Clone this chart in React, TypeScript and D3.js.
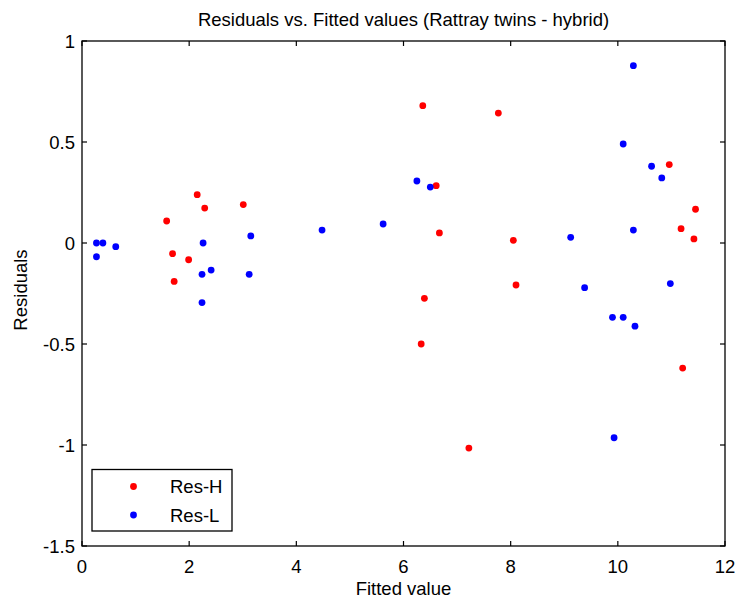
import React from "react";
import * as d3 from "d3";

const resHX = [1.58, 1.69, 1.72, 1.99, 2.15, 2.29, 3.01, 6.33, 6.36, 6.39, 6.61, 6.67, 7.22, 7.77, 8.05, 8.10, 10.96, 11.18, 11.21, 11.42, 11.45];
const resHY = [0.109, -0.053, -0.19, -0.083, 0.239, 0.173, 0.19, -0.50, 0.68, -0.274, 0.284, 0.05, -1.015, 0.643, 0.013, -0.208, 0.388, 0.071, -0.619, 0.02, 0.167];
const resLX = [0.27, 0.27, 0.39, 0.63, 2.26, 2.24, 2.24, 2.41, 3.12, 3.15, 4.48, 5.62, 6.25, 6.50, 9.12, 9.38, 9.90, 9.93, 10.10, 10.10, 10.29, 10.29, 10.32, 10.63, 10.82, 10.98];
const resLY = [-0.068, 0.0, 0.0, -0.018, 0.0, -0.155, -0.295, -0.134, -0.155, 0.035, 0.064, 0.094, 0.307, 0.277, 0.028, -0.221, -0.368, -0.964, -0.368, 0.49, 0.878, 0.064, -0.412, 0.38, 0.322, -0.201];
const xTicks = [0, 2, 4, 6, 8, 10, 12];
const yTicks = [1, 0.5, 0, -0.5, -1, -1.5];
const seriesNames = ["Res-H", "Res-L"];
const seriesColors = ["#ff0000", "#0000ff"];

export default function App() {
  const W = 736, H = 600;
  const left = 82, right = 725, top = 41, bottom = 546;
  const x = d3.scaleLinear().domain([0, 12]).range([left, right]);
  const y = d3.scaleLinear().domain([-1.5, 1]).range([bottom, top]);
  const font = "Arial, 'Liberation Sans', sans-serif";
  const fs = 18.5;
  const tl = 5;
  const fmt = (v: number) => (v === 0 ? "0" : String(v));
  const series = [
    { xs: resHX, ys: resHY },
    { xs: resLX, ys: resLY },
  ];
  return (
    <svg width={W} height={H} style={{ position: "absolute", left: 0, top: 0, background: "#fff" }}>
      <rect x={0} y={0} width={W} height={H} fill="#fff" />
      <text x={(left + right) / 2} y={26} textAnchor="middle" fontFamily={font} fontSize={fs} fill="#000">
        Residuals vs. Fitted values (Rattray twins - hybrid)
      </text>
      {series.map((s, si) =>
        s.xs.map((xv, i) => (
          <circle key={`${si}-${i}`} cx={x(xv)} cy={y(s.ys[i])} r={3.4} fill={seriesColors[si]} />
        ))
      )}
      <rect x={left} y={top} width={right - left} height={bottom - top} fill="none" stroke="#000" strokeWidth={1.3} />
      {xTicks.map((t) => (
        <g key={`x${t}`}>
          <line x1={x(t)} x2={x(t)} y1={bottom} y2={bottom - tl} stroke="#000" strokeWidth={1.2} />
          <line x1={x(t)} x2={x(t)} y1={top} y2={top + tl} stroke="#000" strokeWidth={1.2} />
          <text x={x(t)} y={bottom + 26.5} textAnchor="middle" fontFamily={font} fontSize={fs} fill="#000">
            {fmt(t)}
          </text>
        </g>
      ))}
      {yTicks.map((t) => (
        <g key={`y${t}`}>
          <line x1={left} x2={left + tl} y1={y(t)} y2={y(t)} stroke="#000" strokeWidth={1.2} />
          <line x1={right} x2={right - tl} y1={y(t)} y2={y(t)} stroke="#000" strokeWidth={1.2} />
          <text x={left - 7} y={y(t) + 7} textAnchor="end" fontFamily={font} fontSize={fs} fill="#000">
            {fmt(t)}
          </text>
        </g>
      ))}
      <text x={(left + right) / 2} y={595} textAnchor="middle" fontFamily={font} fontSize={fs} fill="#000">
        Fitted value
      </text>
      <text
        transform={`translate(27, 290) rotate(-90)`}
        textAnchor="middle"
        fontFamily={font}
        fontSize={fs}
        fill="#000"
      >
        Residuals
      </text>
      <rect x={92} y={469.5} width={140} height={61.5} fill="#fff" stroke="#000" strokeWidth={1.3} />
      {seriesNames.map((n, i) => (
        <g key={n}>
          <circle cx={133.5} cy={486.5 + i * 28.5} r={3.4} fill={seriesColors[i]} />
          <text x={170} y={493 + i * 28.5} fontFamily={font} fontSize={fs} fill="#000">
            {n}
          </text>
        </g>
      ))}
    </svg>
  );
}
